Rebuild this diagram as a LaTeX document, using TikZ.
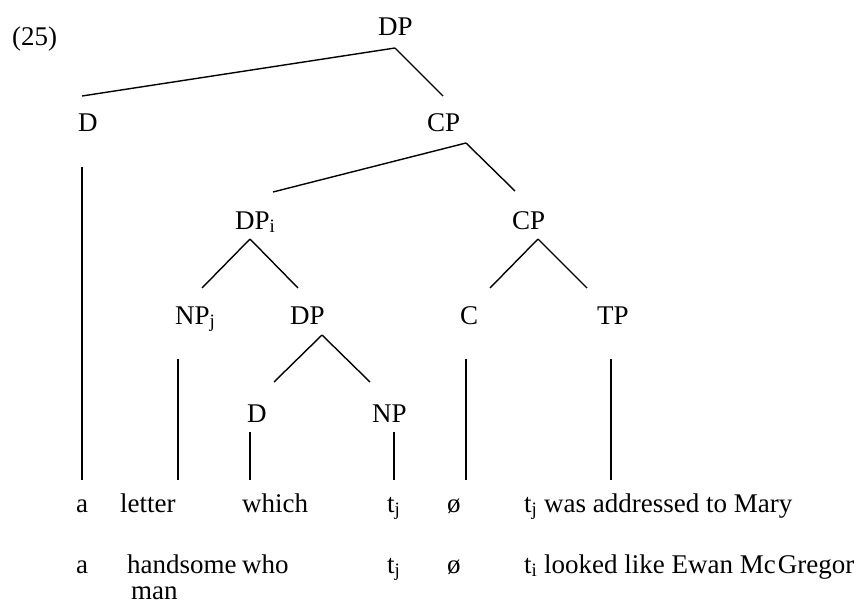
\documentclass[tikz,border=0pt]{standalone}
\usepackage{fontspec}
\setmainfont{Liberation Serif}
\usepackage{tikz}

\begin{document}
\begin{tikzpicture}[x=1pt, y=-1pt]
{\fontsize{27}{32}\selectfont
	\tikzstyle{word} = [anchor=base west, inner sep=0pt]
	\tikzstyle{branch} = [line width=1.4pt]
	\useasboundingbox (0,0) rectangle (854,605);

	\node (num) [word] at (12,45) {(25)};
	% tree labels
	\node (dpTop) [word] at (378,35) {DP};
	\node (dA) [word] at (78,131) {D};
	\node (cpA) [word] at (427,131) {CP};
	\node (dpI) [word] at (235,229) {DP\textsubscript{i}};
	\node (cpB) [word] at (512,229) {CP};
	\node (npJ) [word] at (175,324) {NP\textsubscript{j}};
	\node (dpB) [word] at (290,324) {DP};
	\node (cC) [word] at (460,324) {C};
	\node (tp) [word] at (597,324) {TP};
	\node (dB) [word] at (247,422) {D};
	\node (npB) [word] at (372,422) {NP};
	% first reading
	\node (a1) [word] at (76,512) {a};
	\node (letter) [word] at (120,512) {letter};
	\node (which) [word] at (242,512) {which};
	\node (tj1) [word] at (387,512) {t\textsubscript{j}};
	\node (null1) [word] at (447,512) {ø};
	\node (rest1) [word] at (524,512) {t\textsubscript{j} was addressed to Mary};
	% second reading
	\node (a2) [word] at (76,573) {a};
	\node (handsome) [word] at (127,573) {handsome};
	\node (man) [word] at (131,599) {man};
	\node (who) [word] at (242,573) {who};
	\node (tj2) [word] at (387,573) {t\textsubscript{j}};
	\node (null2) [word] at (447,573) {ø};
	\node (rest2) [word] at (524,573) {t\textsubscript{i} looked like Ewan Mc\kern2pt Gregor};

	\draw [branch]([shift={(17,13)}]dpTop.base west) -- ([shift={(4,-35)}]dA.base west);
	\draw [branch]([shift={(17,13)}]dpTop.base west) -- ([shift={(16,-35)}]cpA.base west);
	\draw [branch]([shift={(39,12)}]cpA.base west) -- ([shift={(38,-37)}]dpI.base west);
	\draw [branch]([shift={(39,12)}]cpA.base west) -- ([shift={(3,-38)}]cpB.base west);
	\draw [branch]([shift={(15,10)}]dpI.base west) -- ([shift={(27,-36)}]npJ.base west);
	\draw [branch]([shift={(15,10)}]dpI.base west) -- ([shift={(8,-36)}]dpB.base west);
	\draw [branch]([shift={(26,10)}]cpB.base west) -- ([shift={(30,-36)}]cC.base west);
	\draw [branch]([shift={(26,10)}]cpB.base west) -- ([shift={(-10,-36)}]tp.base west);
	\draw [branch]([shift={(32,11)}]dpB.base west) -- ([shift={(27,-40)}]dB.base west);
	\draw [branch]([shift={(32,11)}]dpB.base west) -- ([shift={(-2,-40)}]npB.base west);
	% vertical branches down to the words
	\draw [branch]([shift={(4,36)}]dA.base west) -- ([shift={(6,-32)}]a1.base west);
	\draw [branch]([shift={(3,35)}]npJ.base west) -- ([shift={(58,-32)}]letter.base west);
	\draw [branch]([shift={(3,10)}]dB.base west) -- ([shift={(8,-32)}]which.base west);
	\draw [branch]([shift={(22,10)}]npB.base west) -- ([shift={(7,-32)}]tj1.base west);
	\draw [branch]([shift={(6,35)}]cC.base west) -- ([shift={(19,-32)}]null1.base west);
	\draw [branch]([shift={(14,35)}]tp.base west) -- ([shift={(87,-32)}]rest1.base west);
}
\end{tikzpicture}
\end{document}
